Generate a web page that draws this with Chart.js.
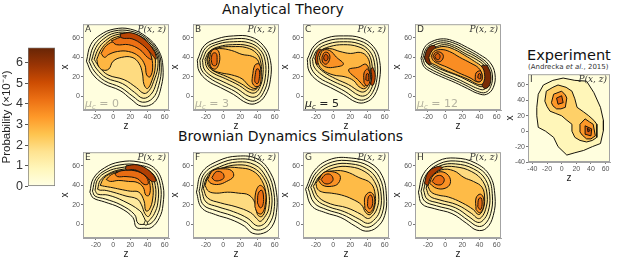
<!DOCTYPE html>
<html>
<head>
<meta charset="utf-8">
<script src="https://cdn.jsdelivr.net/npm/chart.js@4.4.0/dist/chart.umd.min.js"></script>
<style>
body { margin: 0; background: #fff; width: 617px; height: 260px; position: relative; overflow: hidden; font-family: "DejaVu Sans", sans-serif; }
canvas { position: absolute; }
.t { position: absolute; white-space: nowrap; color: #111; }
</style>
</head>
<body>
<div class="t" style="left:222px;top:1px;font-size:14px">Analytical Theory</div>
<div class="t" style="left:178px;top:128px;font-size:14px">Brownian Dynamics Simulations</div>
<div class="t" style="left:527px;top:47px;font-size:14.5px">Experiment</div>
<div class="t" style="left:528px;top:63px;font-size:7px;color:#333">(Andrecka <i>et al.</i>, 2015)</div>
<script>
// tick labels
const zTicks = [-20, 0, 20, 40, 60];
const xTicks = [0, 20, 40, 60];
const zTicksExp = [-40, -20, 0, 20, 40, 60];
const xTicksExp = [-40, -20, 0, 20, 40, 60];
const cbarTicks = [0, 1, 2, 3, 4, 5, 6];
const probMax = 6.72;

const letters = ['A', 'B', 'C', 'D', 'E', 'F', 'G', 'H', 'I'];
const muValues = ['0', '3', '5', '12'];

// contour lines: [probability level, [[z, x], ...]]
const contoursA = [
  [0.4, [[-31,36],[-26,53],[-15,63],[1,69],[20,69],[39,61],[53,47],[58,30],[56,10],[48,-6],[33,-10],[21,-3],[8,6],[-11,13],[-24,23]]],
  [0.9, [[-28,36],[-23,51],[-13,61],[1,67],[20,67],[38,60],[52,46],[56,30],[53,11],[46,-2],[34,-6],[23,0],[9,9],[-10,16],[-22,26]]],
  [1.4, [[-25,37],[-20,50],[-11,59],[2,65],[19,65],[37,59],[51,45],[54,30],[50,13],[44,2],[35,-2],[25,4],[11,13],[-8,19],[-19,28]]],
  [1.9, [[-22,38],[-17,49],[-9,57],[3,63],[19,64],[36,58],[50,44],[52,30],[47,15],[42,6],[36,3],[27,9],[13,17],[-6,22],[-16,30]]],
  [2.8, [[-19,38],[-14,48],[-6,56],[4,61],[18,62],[34,56],[47,44],[49,30],[45,16],[40,8],[36,12],[34,24],[30,34],[22,40],[10,40],[0,36],[-5,28],[-12,27],[-17,31]]],
  [3.5, [[-14,44],[-8,52],[3,57],[18,58],[32,53],[43,43],[46,30],[43,20],[39,22],[37,32],[30,41],[18,46],[5,46],[-5,43],[-10,40]]],
  [4.2, [[-2,57],[12,61],[28,58],[40,49],[45,38],[40,40],[31,48],[18,53],[4,53]]],
  [5.3, [[8,64],[22,65],[37,58],[48,46],[50,38],[44,44],[34,53],[22,59],[10,60]]]
];
const contoursB = [
  [0.4, [[-30,37],[-22,52],[-7,59],[12,62],[32,61],[47,52],[55,37],[55,17],[49,1],[39,-7],[28,-7],[12,2],[-3,9],[-18,16],[-28,26]]],
  [0.9, [[-27,37],[-20,50],[-6,56],[12,59],[31,58],[45,50],[52,37],[52,18],[47,4],[39,-4],[29,-4],[14,5],[-2,12],[-16,19],[-25,27]]],
  [1.4, [[-24,37],[-18,48],[-5,54],[12,56],[30,55],[43,48],[49,36],[49,19],[45,7],[39,0],[30,0],[16,8],[0,15],[-14,21],[-22,28]]],
  [1.9, [[-21,38],[-16,46],[-5,51],[11,53],[29,52],[41,46],[46,35],[46,20],[43,10],[38,4],[31,4],[19,11],[3,18],[-12,24],[-19,30]]],
  [2.3, [[-19,38],[-15,46],[-5,50],[10,51],[27,50],[39,44],[44,34],[44,21],[42,12],[38,7],[32,7],[21,13],[5,20],[-11,26],[-17,31]]],
  [2.8, [[-18,38],[-14,47],[-4,49],[10,47],[22,43],[34,41],[41,36],[43,22],[41,11],[37,8],[30,11],[22,18],[10,22],[-2,24],[-12,27],[-16,32]]],
  [3.6, [[-16,38],[-13,47],[-7,48],[-4,42],[-5,33],[-9,28],[-14,30]]],
  [3.6, [[34,20],[37,32],[42,33],[44,24],[43,12],[38,10],[34,14]]],
  [4.4, [[-14,38],[-12,44],[-8,44],[-7,38],[-8,32],[-12,32]]],
  [4.4, [[37,20],[39,28],[42,27],[42,18],[40,13],[37,15]]]
];
const contoursC = [
  [0.4, [[-30,38],[-22,52],[-7,60],[12,62],[32,60],[47,51],[54,37],[54,17],[48,1],[38,-6],[27,-6],[12,2],[-3,9],[-18,16],[-28,26]]],
  [0.9, [[-27,38],[-20,50],[-6,57],[12,59],[31,57],[45,49],[51,36],[51,18],[46,4],[38,-3],[28,-3],[14,5],[-1,12],[-16,19],[-25,28]]],
  [1.4, [[-24,38],[-18,48],[-5,54],[12,56],[30,54],[42,47],[48,35],[48,19],[44,7],[38,1],[30,1],[16,9],[1,15],[-13,22],[-22,30]]],
  [1.9, [[-21,39],[-16,46],[-4,51],[12,53],[29,51],[40,45],[45,34],[45,20],[42,10],[37,5],[31,5],[18,12],[3,18],[-11,25],[-19,32]]],
  [5.3, [[-21,39],[-18,47],[-14,48],[-15,42],[-16,35],[-19,33]]],
  [5.3, [[46,30],[49,22],[47,12],[44,12],[45,20],[44,28]]],
  [2.8, [[-18,40],[-14,47],[-4,49],[8,46],[20,44],[32,45],[40,40],[43,30],[42,15],[37,8],[30,10],[24,16],[14,20],[0,22],[-12,27],[-17,33]]],
  [3.5, [[-16,40],[-12,47],[-4,47],[4,40],[12,33],[2,30],[-8,30],[-14,34]]],
  [3.5, [[36,10],[30,16],[18,27],[30,30],[38,33],[42,26],[42,15]]],
  [4.2, [[-13,40],[-10,45],[-5,44],[-4,38],[-8,33],[-12,35]]],
  [4.2, [[36,14],[36,24],[40,28],[43,22],[42,13],[39,11]]],
  [4.9, [[-11,40],[-9,43],[-6,41],[-7,37],[-10,37]]],
  [4.9, [[38,17],[39,23],[41,23],[41,16]]]
];
const contoursD = [
  [0.4, [[-28,39],[-24,50],[-16,56],[-2,59],[12,56],[26,50],[40,43],[52,35],[58,23],[56,9],[48,2],[38,3],[26,8],[12,14],[-4,20],[-18,26],[-25,31]]],
  [0.8, [[-26,39],[-22,49],[-15,54],[-2,57],[12,54],[25,48],[39,41],[50,33],[55,22],[53,10],[47,4],[38,5],[27,10],[13,16],[-3,22],[-17,28],[-23,32]]],
  [1.2, [[-24,39],[-20,48],[-14,52],[-2,55],[11,52],[24,46],[37,40],[48,32],[52,22],[50,12],[45,7],[38,8],[28,12],[14,18],[-2,24],[-15,30],[-21,34]]],
  [1.7, [[-22,39],[-18,46],[-12,50],[-1,53],[11,50],[23,44],[36,38],[46,31],[49,22],[47,14],[43,10],[38,11],[29,15],[15,21],[0,26],[-13,31],[-19,35]]],
  [6.4, [[-24,40],[-21,48],[-16,52],[-11,51],[-13,44],[-14,38],[-17,33],[-21,34]]],
  [6.4, [[49,32],[53,23],[52,12],[47,8],[43,11],[45,18],[44,26],[42,31]]],
  [2.9, [[-19,40],[-15,47],[-9,50],[0,51],[11,48],[23,42],[34,36],[43,30],[46,22],[45,15],[42,12],[36,13],[28,17],[14,22],[0,27],[-11,32],[-17,35]]],
  [3.6, [[-16,41],[-13,46],[-5,48],[5,46],[17,40],[30,34],[39,29],[43,22],[42,16],[37,15],[29,19],[16,24],[2,30],[-9,34],[-14,37]]],
  [4.1, [[-14,41],[-11,45],[-5,45],[-2,41],[-5,36],[-10,36]]],
  [4.1, [[35,17],[36,24],[41,26],[43,21],[42,16],[38,15]]],
  [4.7, [[-12,41],[-9,44],[-6,42],[-7,38],[-10,38]]],
  [4.7, [[38,19],[39,23],[41,23],[41,18]]]
];
const contoursE = [
  [0.4, [[-27,33],[-23,47],[-10,58],[8,64],[30,64],[49,57],[58,40],[58,20],[54,7],[45,-3],[36,-4],[27,-3],[23,7],[8,17],[-10,23],[-23,27]]],
  [0.9, [[-24,34],[-20,47],[-8,56],[8,61],[29,61],[47,55],[55,40],[55,21],[51,9],[44,1],[37,0],[29,1],[25,10],[9,20],[-9,26],[-21,29]]],
  [1.4, [[-21,35],[-18,46],[-7,54],[8,58],[28,59],[45,53],[52,40],[52,22],[48,11],[43,5],[39,2],[36,7],[31,14],[12,24],[-6,30],[-18,31]]],
  [1.9, [[-18,36],[-15,45],[-5,52],[8,56],[27,57],[43,52],[49,40],[49,24],[45,14],[41,8],[37,11],[33,20],[28,26],[15,29],[0,33],[-10,35],[-15,35]]],
  [2.7, [[-15,40],[-11,47],[-3,52],[9,55],[27,55],[41,50],[46,40],[46,26],[42,15],[38,14],[36,24],[30,33],[20,34],[8,36],[-3,38],[-10,39]]],
  [3.5, [[-8,46],[-2,51],[9,54],[26,54],[39,49],[43,40],[42,30],[38,30],[35,38],[28,43],[18,44],[6,45],[-3,44]]],
  [4.3, [[2,52],[10,55],[25,55],[37,50],[41,42],[36,41],[28,47],[15,49],[5,49]]],
  [5.5, [[15,60],[28,61],[42,55],[50,45],[45,44],[36,51],[25,56],[15,56]]],
  [0.9, [[36,1],[38,4],[40,1],[38,-1]]]
];
const contoursF = [
  [0.4, [[-31,33],[-25,53],[-6,65],[17,70],[40,67],[55,53],[62,33],[62,12],[57,-2],[47,-9],[34,-9],[25,-2],[9,5],[-9,10],[-25,17]]],
  [0.9, [[-28,34],[-22,52],[-5,62],[17,67],[39,64],[52,52],[59,33],[59,13],[54,1],[46,-5],[36,-5],[27,2],[10,9],[-8,14],[-23,20]]],
  [1.4, [[-25,35],[-20,50],[-4,59],[17,64],[37,61],[49,50],[56,33],[56,15],[51,4],[45,-1],[38,-1],[29,6],[12,13],[-6,18],[-20,23]]],
  [1.9, [[-23,37],[-18,49],[-3,57],[17,61],[35,58],[47,48],[53,33],[53,16],[48,7],[43,3],[39,6],[32,12],[15,18],[-3,22],[-18,27]]],
  [2.7, [[-21,40],[-15,53],[0,58],[18,58],[34,55],[45,45],[50,30],[49,15],[45,8],[40,10],[37,22],[30,30],[18,32],[5,33],[-8,32],[-17,34]]],
  [3.5, [[-18,46],[-12,55],[0,57],[10,55],[12,49],[4,44],[-5,41],[-14,42]]],
  [3.5, [[37,18],[38,33],[43,40],[49,34],[49,20],[45,11],[40,12]]],
  [4.2, [[-13,48],[-8,54],[-1,53],[1,48],[-4,45],[-10,45]]],
  [4.2, [[40,22],[41,32],[45,35],[47,28],[46,19],[43,17]]]
];
const contoursG = [
  [0.4, [[-32,36],[-21,56],[-2,67],[21,68],[43,63],[57,50],[62,29],[60,9],[51,-3],[38,-7],[26,-2],[9,7],[-9,12],[-25,19]]],
  [0.9, [[-29,37],[-19,54],[-1,64],[21,65],[41,60],[54,48],[59,29],[57,11],[49,1],[39,-3],[28,2],[11,10],[-7,15],[-22,22]]],
  [1.4, [[-26,38],[-17,52],[0,61],[21,62],[39,57],[51,46],[56,29],[54,13],[47,4],[40,1],[31,5],[13,13],[-5,18],[-19,25]]],
  [1.9, [[-23,39],[-15,50],[1,58],[20,59],[37,54],[48,44],[53,29],[51,16],[45,8],[40,6],[33,10],[16,17],[-3,21],[-17,28]]],
  [2.7, [[-20,42],[-12,52],[2,55],[15,54],[30,48],[44,42],[49,30],[48,17],[43,10],[38,12],[33,20],[22,26],[10,30],[-2,32],[-12,33],[-18,36]]],
  [3.5, [[-17,45],[-11,53],[-1,54],[8,50],[6,42],[-2,39],[-12,40]]],
  [3.5, [[37,16],[37,28],[43,33],[48,28],[47,17],[42,12]]],
  [4.2, [[-14,46],[-9,51],[-3,51],[0,46],[-4,42],[-10,42]]],
  [4.2, [[40,19],[41,28],[44,30],[46,25],[45,18],[42,16]]]
];
const contoursH = [
  [0.4, [[-31,33],[-25,52],[-8,65],[12,68],[35,63],[52,50],[58,29],[56,9],[48,-4],[37,-6],[25,1],[8,11],[-12,16],[-27,21]]],
  [0.9, [[-28,34],[-22,51],[-7,62],[12,65],[34,60],[50,48],[55,29],[53,11],[46,0],[38,-2],[27,4],[10,14],[-10,19],[-24,24]]],
  [1.4, [[-25,35],[-20,50],[-6,60],[12,62],[33,57],[47,46],[52,29],[50,13],[44,4],[38,2],[29,7],[12,17],[-8,22],[-21,26]]],
  [1.9, [[-22,37],[-18,49],[-5,58],[12,59],[31,54],[44,44],[49,29],[47,15],[42,7],[38,6],[31,11],[14,20],[-6,25],[-18,29]]],
  [5.6, [[-24,42],[-20,53],[-10,59],[-3,58],[-10,54],[-16,47],[-19,40]]],
  [2.7, [[-20,39],[-16,49],[-4,56],[10,55],[22,48],[33,44],[43,38],[46,27],[44,15],[39,10],[33,15],[20,22],[4,28],[-8,30],[-16,33]]],
  [3.5, [[-18,42],[-14,50],[-5,54],[4,50],[6,42],[0,37],[-10,37]]],
  [3.5, [[36,15],[36,27],[41,31],[45,26],[44,16],[40,12]]],
  [4.3, [[-15,44],[-11,49],[-5,50],[-1,46],[-4,41],[-11,41]]],
  [4.3, [[38,18],[39,26],[42,27],[43,20],[41,15]]]
];
const contoursI = [
  [0.9, [[-25,60],[-12,66],[2,69],[18,66],[34,65],[44,50],[53,31],[57,14],[57,1],[53,-16],[42,-20],[30,-25],[18,-28],[7,-31],[-5,-20],[-11,-8],[-22,0],[-32,5],[-34,20],[-34,31],[-32,48]]],
  [2.2, [[-21,52],[-12,57],[-5,60],[6,57],[14,52],[18,42],[21,31],[30,25],[37,20],[44,14],[48,9],[48,-8],[42,-12],[34,-14],[25,-12],[18,-8],[14,0],[14,9],[6,15],[0,20],[-8,23],[-16,26],[-20,32],[-23,39]]],
  [3.4, [[-11,48],[0,52],[5,47],[7,43],[5,31],[-1,29],[-7,29],[-12,33],[-14,37]]],
  [3.4, [[32,16],[38,12],[43,9],[46,-6],[40,-10],[34,-10],[28,-5],[25,-1],[25,9]]],
  [4.5, [[-7,43],[0,46],[2,37],[-5,35]]],
  [4.5, [[32,7],[41,3],[40,-6],[32,-4]]],
  [5.7, [[35,4],[39,1],[36,-1]]]
];

const panels = [
  { l: 83,  t: 22,  w: 86, h: 88, c: contoursA, mu: 0 },
  { l: 193, t: 22,  w: 86, h: 88, c: contoursB, mu: 1 },
  { l: 303, t: 22,  w: 86, h: 88, c: contoursC, mu: 2, muDark: true },
  { l: 415, t: 22,  w: 86, h: 88, c: contoursD, mu: 3 },
  { l: 83,  t: 150, w: 86, h: 88, c: contoursE },
  { l: 193, t: 150, w: 86, h: 88, c: contoursF },
  { l: 303, t: 150, w: 86, h: 88, c: contoursG },
  { l: 415, t: 150, w: 86, h: 88, c: contoursH },
  { l: 528, t: 72,  w: 82, h: 90, c: contoursI, exp: true }
];

// YlOrBr
const cmap = ['#ffffe5', '#fff7bc', '#fee391', '#fec44f', '#fe9929', '#ec7014', '#cc4c02', '#993404', '#662506'];
function hexRgb(h) { return [1, 3, 5].map(i => parseInt(h.substr(i, 2), 16)); }
function colorAt(v) {
  const t = Math.max(0, Math.min(1, v / probMax)) * (cmap.length - 1);
  const i = Math.min(cmap.length - 2, Math.floor(t));
  const f = t - i;
  const a = hexRgb(cmap[i]), b = hexRgb(cmap[i + 1]);
  const c = a.map((x, k) => Math.round(x + (b[k] - x) * f));
  return 'rgb(' + c.join(',') + ')';
}

const YW = 27, XH = 22, PT = 3, PR = 3;

const panelDeco = {
  id: 'panelDeco',
  beforeDraw(chart, args, o) {
    const a = chart.chartArea, c = chart.ctx;
    c.save();
    c.fillStyle = colorAt(0.15);
    c.fillRect(a.left, a.top, a.width, a.height);
    c.restore();
  },
  afterDraw(chart, args, o) {
    const a = chart.chartArea, c = chart.ctx;
    c.save();
    c.strokeStyle = '#a3a3a3';
    c.lineWidth = 1;
    c.strokeRect(a.left + 0.5, a.top + 0.5, a.width - 1, a.height - 1);
    c.fillStyle = '#333';
    c.textBaseline = 'top';
    c.font = '9px "DejaVu Sans"';
    c.fillText(o.letter, a.left + 2, a.top + 1);
    c.textAlign = 'right';
    c.font = 'italic 9px "DejaVu Serif"';
    c.fillText('P(x, z)', a.right - 3, a.top + 1);
    if (o.mu != null) {
      c.textAlign = 'left';
      c.textBaseline = 'alphabetic';
      c.fillStyle = o.muDark ? '#222' : '#b5b3a0';
      let x = a.left + 2;
      const y = a.bottom - 3;
      c.font = 'italic 11px "DejaVu Sans"';
      c.fillText('\u03bc', x, y);
      x += c.measureText('\u03bc').width;
      c.font = 'italic 7px "DejaVu Sans"';
      c.fillText('c', x, y + 2);
      x += c.measureText('c').width;
      c.font = '11px "DejaVu Sans"';
      c.fillText(' = ' + o.mu, x, y);
    }
    c.restore();
  }
};

function axis(min, max, ticks, title, size) {
  return {
    type: 'linear', min: min, max: max,
    afterBuildTicks: s => { s.ticks = ticks.map(v => ({ value: v })); },
    afterFit: s => { if (s.isHorizontal()) s.height = size; else s.width = size; },
    ticks: { font: { size: 7 }, color: '#555', padding: 1, maxRotation: 0, autoSkip: false },
    grid: { display: true, drawOnChartArea: false, drawTicks: true, tickLength: 2, color: '#777' },
    border: { display: true, color: '#a3a3a3' },
    title: { display: true, text: title, font: { size: 10 }, color: '#222', padding: { top: 3, bottom: 0 } }
  };
}

panels.forEach((p, n) => {
  const cv = document.createElement('canvas');
  cv.width = YW + p.w + PR;
  cv.height = PT + p.h + XH;
  cv.style.left = (p.l - YW) + 'px';
  cv.style.top = (p.t - PT) + 'px';
  document.body.appendChild(cv);
  const sets = p.c.map(([lvl, pts]) => ({
    data: pts.concat([pts[0]]).map(([z, x]) => ({ x: z, y: x })),
    showLine: true,
    fill: 'shape',
    backgroundColor: colorAt(lvl),
    borderColor: '#15130c',
    borderWidth: 1,
    pointRadius: 0,
    tension: p.exp ? 0 : 0.4
  })).reverse();
  new Chart(cv, {
    type: 'scatter',
    data: { datasets: sets },
    options: {
      responsive: false,
      animation: false,
      events: [],
      layout: { padding: { top: PT, right: PR, left: 0, bottom: 0 } },
      plugins: {
        legend: { display: false },
        tooltip: { enabled: false },
        panelDeco: { letter: letters[n], mu: p.mu != null ? muValues[p.mu] : null, muDark: !!p.muDark }
      },
      scales: {
        x: p.exp ? axis(-46, 66, zTicksExp, 'z', XH) : axis(-35, 65, zTicks, 'z', XH),
        y: p.exp ? axis(-40, 74, xTicksExp, 'x', YW) : axis(-14, 74, xTicks, 'x', YW)
      }
    },
    plugins: [panelDeco]
  });
});

// colour bar
const cb = document.createElement('canvas');
cb.width = 60; cb.height = 158;
cb.style.left = '0px'; cb.style.top = '38px';
document.body.appendChild(cb);
new Chart(cb, {
  type: 'bar',
  data: {
    labels: ['p'],
    datasets: [{
      data: [probMax],
      barPercentage: 1,
      categoryPercentage: 1,
      borderWidth: 1,
      borderColor: '#777',
      borderSkipped: false,
      backgroundColor: ctx => {
        const a = ctx.chart.chartArea;
        if (!a) return '#fec44f';
        const g = ctx.chart.ctx.createLinearGradient(0, a.bottom, 0, a.top);
        cmap.forEach((col, i) => g.addColorStop(i / (cmap.length - 1), col));
        return g;
      }
    }]
  },
  options: {
    responsive: false,
    animation: false,
    events: [],
    layout: { padding: { top: 9, right: 5, left: 0, bottom: 9 } },
    plugins: { legend: { display: false }, tooltip: { enabled: false } },
    scales: {
      x: { display: false },
      y: {
        min: 0, max: probMax,
        afterBuildTicks: s => { s.ticks = cbarTicks.map(v => ({ value: v })); },
        afterFit: s => { s.width = 28; },
        ticks: { font: { size: 12.5 }, color: '#333', padding: 2 },
        grid: { display: true, drawOnChartArea: false, tickLength: 3, color: '#555' },
        border: { display: false },
        title: { display: true, text: 'Probability (\u00d710\u207b\u2074)', font: { size: 11.5 }, color: '#222', padding: { top: 0, bottom: 0 } }
      }
    }
  }
});
</script>
</body>
</html>
